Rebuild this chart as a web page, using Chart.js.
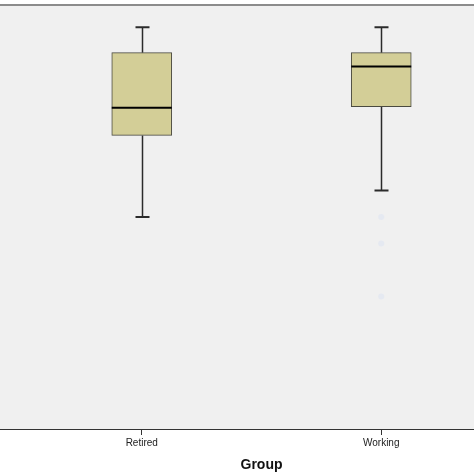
<!DOCTYPE html>
<html>
<head>
<meta charset="utf-8">
<script src="https://cdn.jsdelivr.net/npm/chart.js@4/dist/chart.umd.min.js"></script>
<style>
    html, body { margin: 0; padding: 0; background: #fff; overflow: hidden; }
    /* the original plot is cropped: its x axis runs past the right edge */
    #wrap { position: relative; width: 524px; height: 474px; }
</style>
</head>
<body>
<div id="wrap"><canvas id="chart"></canvas></div>
<script>
// Valores (escala y estimada, 0 a 40)
const groups = ['Retired', 'Working'];
const whiskerMin = [20.0, 22.5];
const q1 = [27.7, 30.4];
const median = [30.3, 34.2];
const q3 = [35.5, 35.5];
const whiskerMax = [37.9, 37.9];
const outliers = [[], [20.0, 17.5, 12.5]];

// Caixa = barra flutuante entre q1 e q3
const boxData = groups.map((g, i) => [q1[i], q3[i]]);

// Outliers quase apagados na imagem original
const outlierData = [];
outliers.forEach((list, i) => list.forEach(v => outlierData.push({ x: groups[i], y: v })));

// Fundo cinza da área do gráfico (a imagem original está recortada à esquerda)
const plotBackground = {
    id: 'plotBackground',
    beforeDraw(chart) {
        const { ctx, chartArea: a, width } = chart;
        ctx.save();
        ctx.fillStyle = '#f0f0f0';
        ctx.fillRect(0, a.top, width, a.bottom - a.top);
        ctx.strokeStyle = '#8c8c8c';
        ctx.lineWidth = 2;
        ctx.beginPath();
        ctx.moveTo(0, a.top);
        ctx.lineTo(width, a.top);
        ctx.stroke();
        ctx.restore();
    },
    afterDraw(chart) {
        // linha do eixo x até a borda esquerda
        const { ctx, chartArea: a } = chart;
        ctx.save();
        ctx.strokeStyle = '#333';
        ctx.lineWidth = 1;
        ctx.beginPath();
        ctx.moveTo(0, Math.round(a.bottom) + 0.5);
        ctx.lineTo(a.left, Math.round(a.bottom) + 0.5);
        ctx.stroke();
        ctx.restore();
    }
};

// Bigodes (antes das caixas) e medianas (depois das caixas)
const boxPlotLines = {
    id: 'boxPlotLines',
    beforeDatasetsDraw(chart) {
        const { ctx, scales: { x, y } } = chart;
        const capHalf = 7;
        ctx.save();
        ctx.strokeStyle = '#2b2b2b';
        groups.forEach((g, i) => {
            const cx = Math.round(x.getPixelForValue(i)) + 0.5;
            ctx.lineWidth = 1.5;
            ctx.beginPath();
            ctx.moveTo(cx, y.getPixelForValue(whiskerMax[i]));
            ctx.lineTo(cx, y.getPixelForValue(q3[i]));
            ctx.moveTo(cx, y.getPixelForValue(q1[i]));
            ctx.lineTo(cx, y.getPixelForValue(whiskerMin[i]));
            ctx.stroke();
            ctx.lineWidth = 2;
            ctx.beginPath();
            ctx.moveTo(cx - capHalf, y.getPixelForValue(whiskerMax[i]));
            ctx.lineTo(cx + capHalf, y.getPixelForValue(whiskerMax[i]));
            ctx.moveTo(cx - capHalf, y.getPixelForValue(whiskerMin[i]));
            ctx.lineTo(cx + capHalf, y.getPixelForValue(whiskerMin[i]));
            ctx.stroke();
        });
        ctx.restore();
    },
    afterDatasetsDraw(chart) {
        const { ctx, scales: { y } } = chart;
        const bars = chart.getDatasetMeta(0).data;
        ctx.save();
        ctx.strokeStyle = '#000';
        ctx.lineWidth = 2;
        groups.forEach((g, i) => {
            const bar = bars[i];
            const half = bar.width / 2;
            const my = y.getPixelForValue(median[i]);
            ctx.beginPath();
            ctx.moveTo(bar.x - half, my);
            ctx.lineTo(bar.x + half, my);
            ctx.stroke();
        });
        ctx.restore();
    }
};

const ctx = document.getElementById('chart').getContext('2d');

new Chart(ctx, {
    type: 'bar',
    data: {
        labels: groups,
        datasets: [{
            type: 'bar',
            label: 'box',
            data: boxData,
            backgroundColor: '#d3ce97',
            borderColor: '#4a4a40',
            borderWidth: 1,
            borderSkipped: false,
            barThickness: 60
        }, {
            type: 'scatter',
            label: 'outliers',
            data: outlierData,
            pointRadius: 3,
            pointBorderWidth: 0,
            backgroundColor: 'rgba(205, 218, 245, 0.3)'
        }]
    },
    options: {
        responsive: true,
        maintainAspectRatio: false,
        animation: false,
        layout: {
            // eixo de categorias de 22 a 501 px, como no recorte original
            padding: { top: 5, left: 22, right: 23, bottom: 0 }
        },
        scales: {
            x: {
                type: 'category',
                offset: true,
                afterFit: function (scale) {
                    scale.height = 45; // eixo x ocupa de 429 a 474
                },
                ticks: {
                    padding: 2,
                    color: '#222',
                    font: { family: 'Liberation Sans', size: 10 }
                },
                grid: {
                    display: true,
                    drawOnChartArea: false,
                    drawTicks: true,
                    offset: false,
                    tickLength: 6,
                    color: '#333'
                },
                border: { display: true, color: '#333', width: 1 },
                title: {
                    display: true,
                    text: 'Group',
                    color: '#111',
                    padding: { top: 0, bottom: 0 },
                    font: { family: 'Liberation Sans', size: 14, weight: 'bold' }
                }
            },
            y: {
                display: false,
                min: 0,
                max: 40
            }
        },
        plugins: {
            legend: { display: false },
            tooltip: { enabled: false }
        }
    },
    plugins: [plotBackground, boxPlotLines]
});
</script>
</body>
</html>
